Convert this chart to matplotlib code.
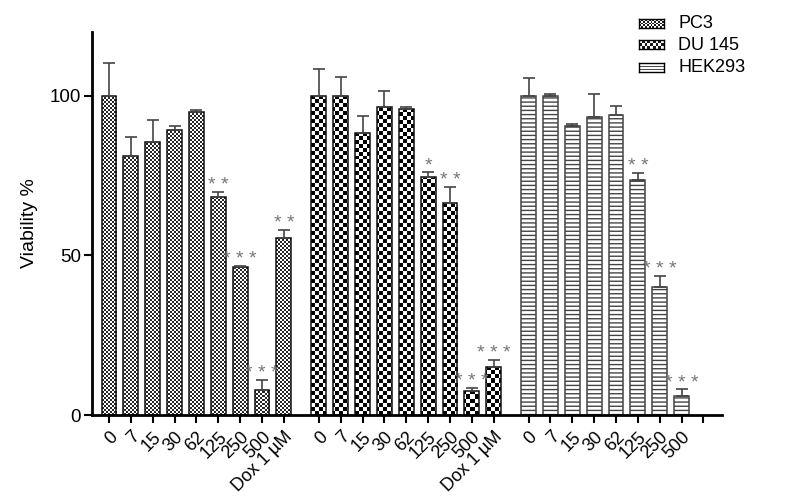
import numpy as np
import matplotlib
matplotlib.use("Agg")
import matplotlib.pyplot as plt

plt.rcParams['font.family'] = ['Liberation Sans', 'DejaVu Sans']

# data
series_names = ["PC3", "DU 145", "HEK293"]
pc3_labels = ["0", "7", "15", "30", "62", "125", "250", "500", "Dox 1 µM"]
du145_labels = ["0", "7", "15", "30", "62", "125", "250", "500", "Dox 1 µM"]
hek_labels = ["0", "7", "15", "30", "62", "125", "250", "500", ""]

pc3_vals = [100, 81, 85.4, 89.3, 94.8, 68.4, 46.3, 7.8, 55.6]
pc3_err = [10.4, 6.0, 6.9, 1.1, 0.8, 1.6, 0.5, 3.2, 2.4]
pc3_stars = ["", "", "", "", "", "**", "***", "***", "**"]

du145_vals = [100, 100, 88.3, 96.4, 95.8, 74.5, 66.5, 7.6, 15.1]
du145_err = [8.5, 5.8, 5.5, 5.2, 0.8, 1.5, 5.0, 0.9, 2.1]
du145_stars = ["", "", "", "", "", "*", "**", "***", "***"]

hek_vals = [100, 100, 90.5, 93.5, 94.0, 73.5, 40.0, 6.1]
hek_err = [5.5, 0.5, 0.6, 7.0, 2.8, 2.3, 3.6, 1.9]
hek_stars = ["", "", "", "", "", "**", "***", "***"]

group_starts = [0, 9.6, 19.2]

W, H, DPI = 792, 498, 100
fig = plt.figure(figsize=(W / DPI, H / DPI), dpi=DPI)
ax_l, ax_r, ax_t, ax_b = 92, 722, 32, 415
ax = fig.add_axes([ax_l / W, 1 - ax_b / H, (ax_r - ax_l) / W, (ax_b - ax_t) / H])
xlim = (-0.78, 28.05)
ylim = (0, 120)
ax.set_xlim(*xlim)
ax.set_ylim(*ylim)


def checker(w, h, cell, dark):
    ny, nx = int(np.ceil(h / cell)), int(np.ceil(w / cell))
    yy, xx = np.mgrid[0:ny, 0:nx]
    arr = ((xx + yy) % 2).astype(float)
    rgb = np.ones((ny, nx, 3))
    rgb[arr == 1] = dark
    return rgb


def stripes(w, h, period, dark):
    rows = int(h)
    rgb = np.ones((rows, int(w), 3))
    for r in range(rows):
        if r % period == 0:
            rgb[r, :] = dark
    return rgb


axw, axh = ax_r - ax_l, ax_b - ax_t
patterns = [
    checker(axw, axh, 2, (0.15, 0.15, 0.15)),
    checker(axw, axh, 4, (0.0, 0.0, 0.0)),
    None,
]

all_vals = [pc3_vals, du145_vals, hek_vals]
all_err = [pc3_err, du145_err, hek_err]
all_stars = [pc3_stars, du145_stars, hek_stars]
all_labels = [pc3_labels, du145_labels, hek_labels]

tick_pos, tick_lab = [], []
for g in range(3):
    vals = all_vals[g]
    x = group_starts[g] + np.arange(len(vals))
    if g == 2:
        bars = ax.bar(x, vals, width=0.68, facecolor="white", edgecolor="#444444",
                      linewidth=1.1, hatch="----", zorder=2)
    else:
        bars = ax.bar(x, vals, width=0.68, facecolor="none", edgecolor="#111111",
                      linewidth=1.1, zorder=2)
        for b in bars:
            im = ax.imshow(patterns[g], extent=(*xlim, *ylim), aspect="auto",
                           interpolation="nearest", zorder=1.5, origin="upper")
            im.set_clip_path(b)
    ax.errorbar(x, vals, yerr=[np.zeros(len(vals)), all_err[g]], fmt="none",
                ecolor="#444444", elinewidth=1.2, capsize=4, capthick=1.2, zorder=3)
    for xi, v, e, s in zip(x, vals, all_err[g], all_stars[g]):
        if s:
            ax.text(xi, v + e + 0.6, " ".join(s), ha="center", va="baseline",
                    fontsize=14, color="#777777")
    nlab = len(all_labels[g])
    tick_pos += list(group_starts[g] + np.arange(nlab))
    tick_lab += all_labels[g]

ax.set_ylim(*ylim)
ax.set_xlim(*xlim)
ax.set_yticks([0, 50, 100])
ax.tick_params(axis="y", labelsize=13.5, width=1.5, length=6, direction="out", pad=2)
ax.set_xticks(tick_pos)
ax.set_xticklabels(tick_lab, rotation=45, ha="right", rotation_mode="anchor",
                   fontsize=13)
ax.tick_params(axis="x", width=1.5, length=6, direction="out")
for side in ["top", "right"]:
    ax.spines[side].set_visible(False)
for side in ["left", "bottom"]:
    ax.spines[side].set_linewidth(2)
ax.set_ylabel("Viability %", fontsize=14, labelpad=8)

# legend
sw_x, sw_w, sw_h = 639, 25, 9
centers = [24, 45, 68]
for i, name in enumerate(series_names):
    cy = centers[i]
    lax = fig.add_axes([sw_x / W, 1 - (cy + sw_h / 2) / H, sw_w / W, sw_h / H])
    if i < 2:
        cell = 2 if i == 0 else 3
        lax.imshow(checker(sw_w, sw_h, cell, (0.1, 0.1, 0.1)), aspect="auto",
                   interpolation="nearest")
    else:
        lax.imshow(stripes(sw_w, sw_h, 3, (0.3, 0.3, 0.3)), aspect="auto",
                   interpolation="nearest")
    lax.set_xticks([])
    lax.set_yticks([])
    for sp in lax.spines.values():
        sp.set_linewidth(1)
    fig.text(678 / W, 1 - cy / H, name, fontsize=13, va="center", ha="left")

fig.savefig("out.png", dpi=DPI)
